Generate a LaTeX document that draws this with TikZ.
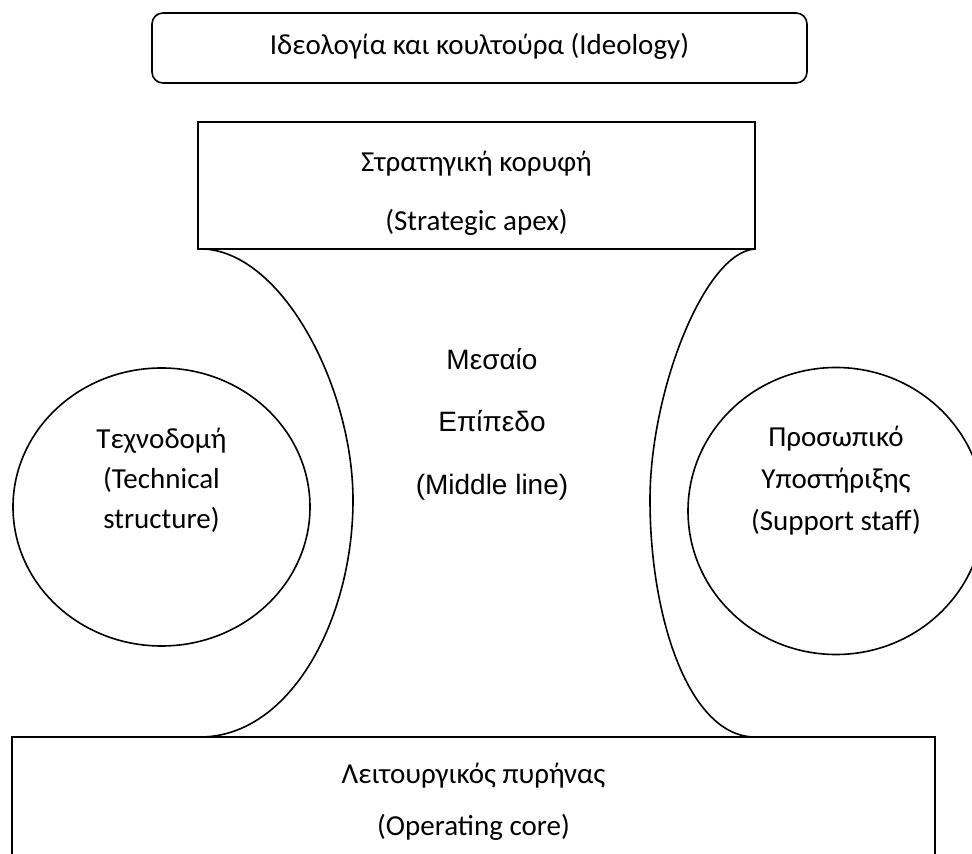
\documentclass[tikz,border=0pt]{standalone}
\usepackage{fontspec}
\setmainfont{Carlito}
\newfontfamily\arialf{Liberation Sans}
\begin{document}
\begin{tikzpicture}[x=1pt,y=1pt,
  shape line/.style={draw=black,line width=1.6pt},
  lbl/.style={inner sep=0pt,text height=0.7em,text depth=0.2em,font=\fontsize{29}{35}\selectfont},
  albl/.style={inner sep=0pt,text height=0.7em,text depth=0.2em,font=\arialf\fontsize{28}{34}\selectfont}]
\useasboundingbox (0,0) rectangle (972,854);
\fill[white] (0,0) rectangle (972,854);
% top box
\node[shape line,rounded corners=11pt,minimum width=655pt,minimum height=70pt,inner sep=0pt] (ideo) at (479.5,806) {};
\node[lbl] (ideoT) at (479.5,802) {Ιδεολογία και κουλτούρα (Ideology)};
% strategic apex
\node[shape line,minimum width=557pt,minimum height=127pt,inner sep=0pt] (apex) at (476.5,668.5) {};
\node[lbl] (apexT1) at (476.5,685) {Στρατηγική κορυφή};
\node[lbl] (apexT2) at (476.5,626) {(Strategic apex)};
% middle line curves
\coordinate (lc1) at (205,605);
\coordinate (lm) at (353,354);
\coordinate (lc2) at (200,117);
\coordinate (rc1) at (755,605);
\coordinate (rm) at (650,354);
\coordinate (rc2) at (755,117);
\draw[shape line] (lc1) .. controls (285,599) and (353,464) .. (lm)
                        .. controls (353,234) and (290,117) .. (lc2);
\draw[shape line] (rc1) .. controls (705,602) and (650,464) .. (rm)
                        .. controls (650,234) and (690,117) .. (rc2);
\node[albl] (midT1) at (492,487) {Μεσαίο};
\node[albl] (midT2) at (492,425) {Επίπεδο};
\node[albl] (midT3) at (492,362) {(Middle line)};
% circles
\draw[shape line] (161.5,347) ellipse[x radius=148.5pt,y radius=139pt];
\node[lbl] (techT1) at (161.5,408) {Τεχνοδομή};
\node[lbl] (techT2) at (161.5,368) {(Technical};
\node[lbl] (techT3) at (161.5,328) {structure)};
\draw[shape line] (836,343) ellipse[x radius=148pt,y radius=143.5pt];
\node[lbl] (supT1) at (836,410) {Προσωπικό};
\node[lbl] (supT2) at (836,368) {Υποστήριξης};
\node[lbl] (supT3) at (836,326) {(Support staff)};
% operating core
\draw[shape line] (12,-10) -- (12,117) -- (935,117) -- (935,-10);
\node[lbl] (opT1) at (473.5,73) {Λειτουργικός πυρήνας};
\node[lbl] (opT2) at (473.5,21) {(Operating core)};
\end{tikzpicture}
\end{document}
